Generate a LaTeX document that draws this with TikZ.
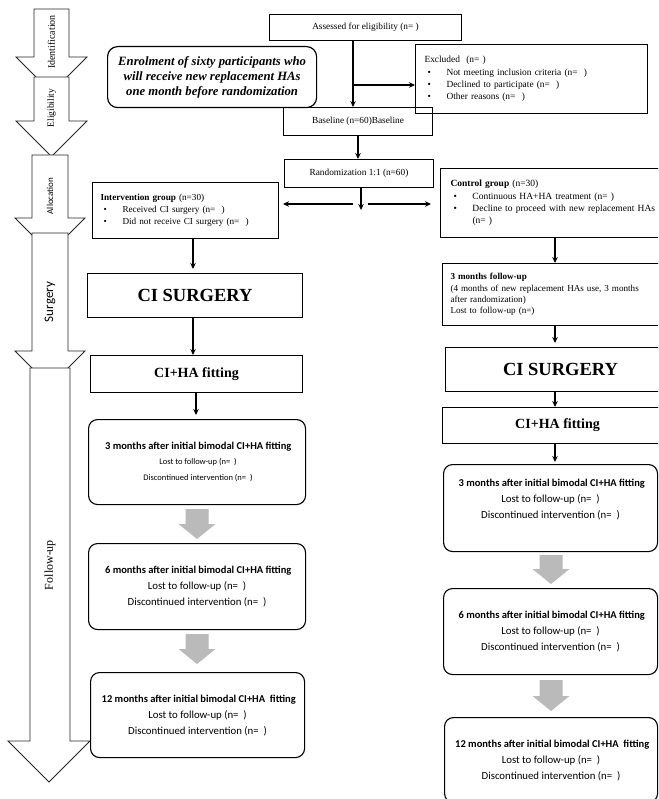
\documentclass[tikz,border=0pt]{standalone}
\usepackage{fontspec}
\setmainfont{Liberation Serif}
\newfontfamily\calfont{Carlito}
\usetikzlibrary{arrows.meta,calc}
\newcommand\itm[1]{\hspace*{3pt}\makebox[19pt][l]{\textbullet}#1}
\newcommand\fs[2]{\fontsize{#1pt}{#2pt}\selectfont}
\newcommand\bigarr[6]{%
  \draw[bigarrow] (#1,#3) -- (#1,#4) -- (#5,#4) -- ({(#5+#6)/2},{#4+(#6-#5)/2}) -- (#6,#4) -- (#2,#4) -- (#2,#3) -- cycle;}
\newcommand\grayarr[3]{% center x, top y, head y
  \fill[grayarrow] ({#1-11.5},#2) -- ({#1-11.5},#3) -- ({#1-18.5},#3) -- (#1,{#3+15}) -- ({#1+18.5},#3) -- ({#1+11.5},#3) -- ({#1+11.5},#2) -- cycle;}
\begin{document}
\begin{tikzpicture}[x=1pt,y=-1pt,
  box/.style={draw, line width=1pt, inner sep=0pt, anchor=north west},
  rbox/.style={draw, line width=1.1pt, rounded corners=9pt, inner sep=0pt, anchor=north west, align=center, font=\calfont\fs{10.8}{16}},
  arr/.style={line width=1.2pt, -{Stealth[length=6pt,width=5.5pt]}},
  bigarrow/.style={draw=black!85, line width=0.8pt, fill=white},
  grayarrow/.style={fill=black!27},
  lbl/.style={rotate=90, inner sep=0pt},
]
\clip (0,0) rectangle (658,799);
\fill[white] (0,0) rectangle (658,799);

% ---------- left phase arrows ----------
\bigarr{34}{69}{9}{57}{16}{87}
\bigarr{34}{69}{77}{121}{16}{87}
\bigarr{32}{68}{155}{218}{15}{85}
\bigarr{32}{68}{233}{351}{15}{85}
\bigarr{30}{70}{368}{741}{8}{90}
\node[lbl, font=\fs{10}{12}] (lid) at (51.5,42) {Identification};
\node[lbl, font=\fs{9.5}{12}] (lel) at (51.5,108) {Eligibility};
\node[lbl, font=\calfont\fs{9}{12}] (lal) at (50,196) {Allocation};
\node[lbl, font=\calfont\fs{13}{14}] (lsu) at (50,302) {Surgery};
\node[lbl, font=\fs{12}{14}] (lfu) at (50,565) {Follow-up};

% ---------- top ----------
\node[box, minimum width=192pt, minimum height=26pt, font=\fs{9.3}{11}] (assess) at (269,14) {Assessed for eligibility (n= )};
\node[box, rounded corners=10pt, line width=1.2pt, minimum width=209pt, minimum height=61pt, align=center, font=\bfseries\itshape\fs{12.7}{14.8}] (enrol) at (107,46)
  {Enrolment of sixty participants who\\will receive new replacement HAs\\one month before randomization};
\node[box, minimum width=232pt, minimum height=69pt, text width=214pt, align=left, font=\fs{9.4}{12.3}] (excl) at (415,44)
  {Excluded\ \ (n= )\\
   \itm{Not meeting inclusion criteria (n=\ \ )}\\
   \itm{Declined to participate (n=\ \ )}\\
   \itm{Other reasons (n=\ \ )}};
\node[box, minimum width=149pt, minimum height=28pt, font=\fs{9.3}{11}] (base) at (283,107) {Baseline (n=60)Baseline};
\node[box, minimum width=149pt, minimum height=28pt, font=\fs{9.3}{11}] (rand) at (284,159) {Randomization 1:1 (n=60)};

% ---------- allocation ----------
\node[box, minimum width=186pt, minimum height=56pt, text width=170pt, align=left, font=\fs{9.2}{12}] (interv) at (92,182)
  {\textbf{Intervention group} (n=30)\\
   \itm{Received CI surgery (n=\ \ )}\\
   \itm{Did not receive CI surgery (n=\ \ )}};
\node[box, minimum width=230pt, minimum height=69pt, text width=210pt, align=left, font=\fs{9.5}{12.3}] (ctrl) at (440,168)
  {\textbf{Control group} (n=30)\\
   \itm{Continuous HA+HA treatment (n= )}\\
   \itm{Decline to proceed with new replacement HAs}\\
   \hspace*{22pt}(n= )};

% ---------- left column ----------
\node[box, minimum width=215pt, minimum height=44pt, font=\bfseries\fs{18.5}{20}] (lcis) at (87,273) {CI SURGERY};
\node[box, minimum width=212pt, minimum height=37pt, font=\bfseries\fs{14}{16}] (lfit) at (90,355) {CI+HA fitting};
\node[rbox, minimum width=217pt, minimum height=85pt] (l3) at (88,419)
  {{\bfseries\fs{10.5}{15} 3 months after initial bimodal CI+HA fitting}\\[-1pt]
   {\fs{8.5}{13} Lost to follow-up (n=\ \ )}\\
   {\fs{8.5}{13} Discontinued intervention (n=\ \ )}};
\node[rbox, minimum width=217pt, minimum height=86pt] (l6) at (88,543)
  {{\bfseries\fs{10.5}{16} 6 months after initial bimodal CI+HA fitting}\\
   Lost to follow-up (n=\ \ )\\
   Discontinued intervention (n=\ \ )};
\node[rbox, minimum width=214pt, minimum height=85pt] (l12) at (90,672)
  {{\bfseries\fs{10.5}{16} 12 months after initial bimodal CI+HA\ \ fitting}\\
   Lost to follow-up (n=\ \ )\\
   Discontinued intervention (n=\ \ )};

% ---------- right column ----------
\node[box, minimum width=230pt, minimum height=62pt, text width=214pt, align=left, font=\fs{9.1}{11.3}] (fu3) at (442,263)
  {\textbf{3 months follow-up}\\
   (4 months of new replacement HAs use, 3 months\\
   after randomization)\\
   Lost to follow-up (n=)};
\node[box, minimum width=230pt, minimum height=44pt, font=\bfseries\fs{18.5}{20}] (rcis) at (445,347) {CI SURGERY};
\node[box, minimum width=230pt, minimum height=36pt, font=\bfseries\fs{14}{16}] (rfit) at (442,407) {CI+HA fitting};
\node[rbox, minimum width=214pt, minimum height=87pt] (r3) at (443,464)
  {{\bfseries\fs{10.5}{16} 3 months after initial bimodal CI+HA fitting}\\
   Lost to follow-up (n=\ \ )\\
   Discontinued intervention (n=\ \ )\\[2pt]\mbox{}};
\node[rbox, minimum width=214pt, minimum height=86pt] (r6) at (443,588)
  {{\bfseries\fs{10.5}{16} 6 months after initial bimodal CI+HA fitting}\\
   Lost to follow-up (n=\ \ )\\
   Discontinued intervention (n=\ \ )};
\node[rbox, minimum width=213pt, minimum height=85pt] (r12) at (444,717)
  {{\bfseries\fs{10.5}{16} 12 months after initial bimodal CI+HA\ \ fitting}\\
   Lost to follow-up (n=\ \ )\\
   Discontinued intervention (n=\ \ )};

% ---------- connectors ----------
\coordinate (aX) at (353,85);
\draw[arr] (aX |- assess.south) -- (aX |- base.north);
\draw[arr] (aX) -- (aX -| excl.west);
\draw[arr] (base.south) -- (base.south |- rand.north);
\coordinate (rX) at (361,210);
\draw[arr] (rX |- rand.south) -- (rX);
\coordinate (hL) at (353,204);
\coordinate (hR) at (368,204);
\draw[arr, shorten >=4pt] (hL) -- (hL -| interv.east);
\draw[arr, shorten >=9pt] (hR) -- (hR -| ctrl.west);
\coordinate (lX) at (193,0);
\draw[arr, shorten >=4pt] (lX |- interv.south) -- (lX |- lcis.north);
\draw[arr] (lX |- lcis.south) -- (lX |- lfit.north);
\coordinate (lX2) at (196,0);
\draw[arr, shorten >=4pt] (lX2 |- lfit.south) -- (lX2 |- l3.north);
\coordinate (cX) at (555,0);
\draw[arr] (cX |- ctrl.south) -- (cX |- fu3.north);
\draw[arr, shorten >=4pt] (cX |- fu3.south) -- (cX |- rcis.north);
\draw[arr] (cX |- rcis.south) -- (cX |- rfit.north);
\draw[arr, shorten >=2pt] (cX |- rfit.south) -- (cX |- r3.north);

% ---------- gray block arrows ----------
\grayarr{197}{509}{524}
\grayarr{197}{634}{649}
\grayarr{551}{555}{569}
\grayarr{551}{680}{696}
\end{tikzpicture}
\end{document}
